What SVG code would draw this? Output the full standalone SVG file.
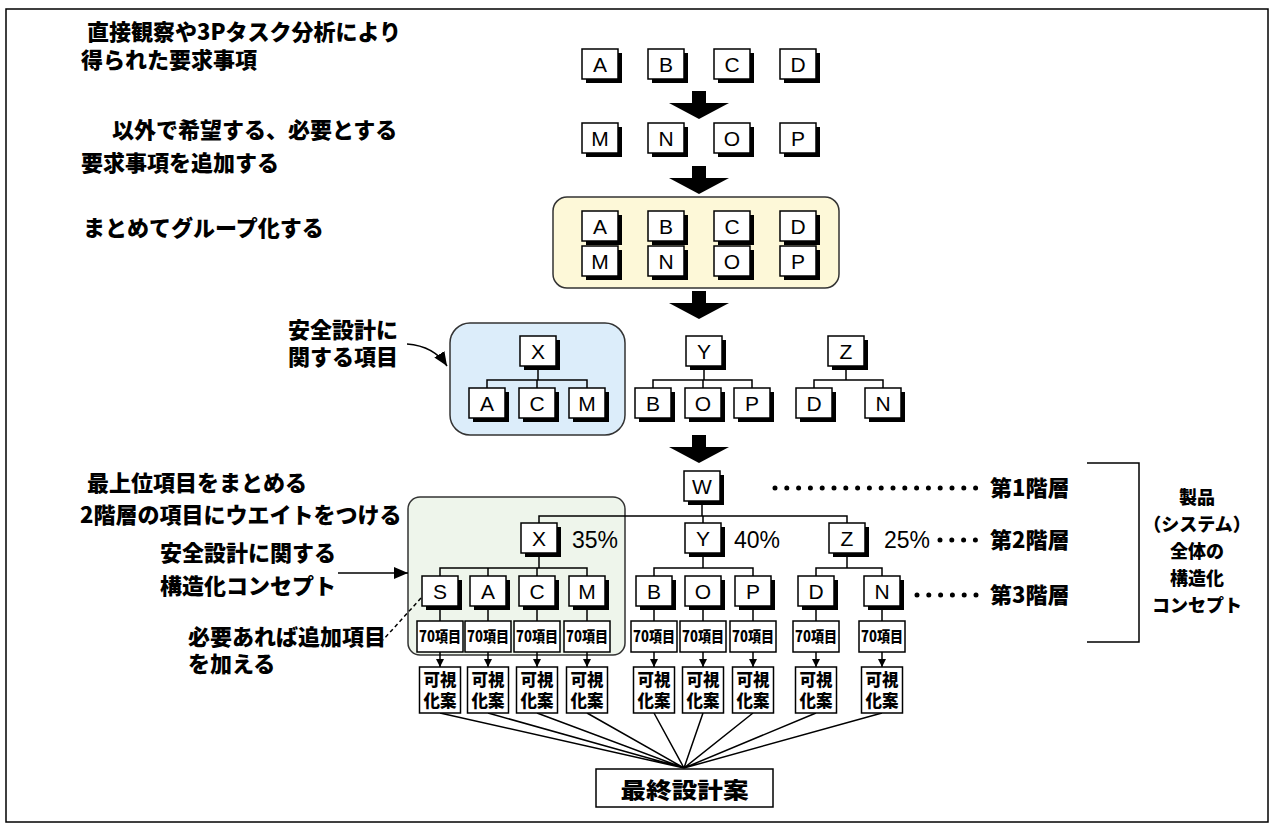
<svg xmlns="http://www.w3.org/2000/svg" width="1270" height="823" viewBox="0 0 1270 823">
<style>
.bx{fill:#fff;stroke:#000;stroke-width:1.5}
.sh{fill:#000}
.lt{font-family:"Liberation Sans",Arial,sans-serif;font-size:21px;fill:#000;text-anchor:middle}
.pc{font-family:"Liberation Sans",Arial,sans-serif;font-size:23px;fill:#000}
.jp{font-family:"Noto Sans CJK JP",sans-serif;font-weight:900;font-size:22px;fill:#000}
.jr{font-family:"Noto Sans CJK JP",sans-serif;font-weight:900;font-size:18px;fill:#000;text-anchor:middle}
.sm{font-family:"Noto Sans CJK JP",sans-serif;font-weight:900;font-size:15px;fill:#000;text-anchor:middle}
.vz{font-family:"Noto Sans CJK JP",sans-serif;font-weight:900;font-size:16.5px;fill:#000;text-anchor:middle}
.ln{stroke:#000;stroke-width:1.5;fill:none}
.dot{stroke:#000;stroke-width:5;stroke-linecap:round;stroke-dasharray:0 11.8;fill:none}
.big{fill:#000}
</style>
<defs>
<marker id="ah" markerUnits="userSpaceOnUse" markerWidth="10" markerHeight="10" refX="8" refY="5" orient="auto">
<path d="M0,1 L8,5 L0,9 Z" fill="#000"/>
</marker>
<marker id="ah2" markerUnits="userSpaceOnUse" markerWidth="16" markerHeight="14" refX="14" refY="7" orient="auto">
<path d="M0,1 L14,7 L0,13 Z" fill="#000"/>
</marker>
</defs>
<rect x="6" y="9" width="1262" height="813" fill="#fff" stroke="#000" stroke-width="1.5"/>

<!-- left labels -->
<g id="labels">
<text class="jp" x="87" y="40">直接観察や3Pタスク分析により</text>
<text class="jp" x="81" y="68">得られた要求事項</text>
<text class="jp" x="112" y="138">以外で希望する、必要とする</text>
<text class="jp" x="81" y="171">要求事項を追加する</text>
<text class="jp" x="83" y="236">まとめてグループ化する</text>
<text class="jp" x="288" y="338">安全設計に</text>
<text class="jp" x="288" y="365">関する項目</text>
<text class="jp" x="87" y="491">最上位項目をまとめる</text>
<text class="jp" x="80" y="523">2階層の項目にウエイトをつける</text>
<text class="jp" x="160" y="561">安全設計に関する</text>
<text class="jp" x="160" y="594">構造化コンセプト</text>
<text class="jp" x="188" y="645">必要あれば追加項目</text>
<text class="jp" x="188" y="672">を加える</text>
</g>

<!-- group backgrounds -->
<rect id="yellow-group" x="553" y="197" width="286" height="91" rx="14" fill="#fdf8d8" stroke="#333" stroke-width="1.5"/>
<rect id="blue-group" x="450" y="323" width="175" height="112" rx="20" fill="#dcedfa" stroke="#333" stroke-width="1.5"/>
<rect id="green-group" x="408" y="497" width="217" height="158" rx="12" fill="#eef5eb" stroke="#333" stroke-width="1.5"/>

<!-- connectors -->
<g id="connectors">
<polygon class="big" points="692,91 706,91 706,103 729,103 699,119 669,103 692,103"/>
<polygon class="big" points="692,166 706,166 706,178 729,178 699,194 669,178 692,178"/>
<polygon class="big" points="692,291 706,291 706,303 729,303 699,319 669,303 692,303"/>
<polygon class="big" points="692,435 706,435 706,447 729,447 699,463 669,447 692,447"/>
<path class="ln" d="M538,366V380M487,388V380H587V388M537,380V388"/>
<path class="ln" d="M704,366V380M653,388V380H752V388M703,380V388"/>
<path class="ln" d="M846,366V380M814,388V380H883V388"/>
<path class="ln" d="M702,501V516M539,523V516H847V523M703,516V523"/>
<path class="ln" d="M539,553V568M440,576V568H587V576M488,568V576M537,568V576"/>
<path class="ln" d="M703,553V568M654,576V568H753V576"/>
<path class="ln" d="M847,553V568M816,576V568H882V576"/>
<path class="ln" d="M440,606V621M488,606V621M537,606V621M587,606V621M654,606V621M703,606V621M753,606V621M816,606V621M882,606V621"/>
<g class="ln" marker-end="url(#ah)">
<line x1="440" y1="652" x2="440" y2="667"/>
<line x1="488" y1="652" x2="488" y2="667"/>
<line x1="537" y1="652" x2="537" y2="667"/>
<line x1="587" y1="652" x2="587" y2="667"/>
<line x1="654" y1="652" x2="654" y2="667"/>
<line x1="703" y1="652" x2="703" y2="667"/>
<line x1="753" y1="652" x2="753" y2="667"/>
<line x1="816" y1="652" x2="816" y2="667"/>
<line x1="882" y1="652" x2="882" y2="667"/>
</g>
<path class="ln" stroke-width="1.3" d="M440,713L684,768M488,713L684,768M537,713L684,768M587,713L684,768M654,713L684,768M703,713L684,768M753,713L684,768M816,713L684,768M882,713L684,768"/>
<path class="ln" d="M407,344Q434,346 447,366" marker-end="url(#ah2)"/>
<line class="ln" stroke-width="2" x1="338" y1="573" x2="408" y2="573" marker-end="url(#ah2)"/>
<line class="ln" stroke-width="1.2" stroke-dasharray="4 3" x1="421" y1="598" x2="383" y2="640"/>
<line class="dot" x1="775" y1="488" x2="987" y2="488"/>
<line class="dot" x1="940" y1="540" x2="987" y2="540"/>
<line class="dot" x1="917" y1="595" x2="987" y2="595"/>
<path class="ln" d="M1087,463H1139V642H1087"/>
</g>

<!-- row 1 -->
<g id="r1-A"><rect class="sh" x="586" y="53" width="36" height="30"/><rect class="bx" x="582" y="49" width="36" height="30"/><text class="lt" x="600" y="72">A</text></g>
<g id="r1-B"><rect class="sh" x="652" y="53" width="36" height="30"/><rect class="bx" x="648" y="49" width="36" height="30"/><text class="lt" x="666" y="72">B</text></g>
<g id="r1-C"><rect class="sh" x="718" y="53" width="36" height="30"/><rect class="bx" x="714" y="49" width="36" height="30"/><text class="lt" x="732" y="72">C</text></g>
<g id="r1-D"><rect class="sh" x="784" y="53" width="36" height="30"/><rect class="bx" x="780" y="49" width="36" height="30"/><text class="lt" x="798" y="72">D</text></g>
<!-- row 2 -->
<g id="r2-M"><rect class="sh" x="586" y="127" width="36" height="30"/><rect class="bx" x="582" y="123" width="36" height="30"/><text class="lt" x="600" y="146">M</text></g>
<g id="r2-N"><rect class="sh" x="652" y="127" width="36" height="30"/><rect class="bx" x="648" y="123" width="36" height="30"/><text class="lt" x="666" y="146">N</text></g>
<g id="r2-O"><rect class="sh" x="718" y="127" width="36" height="30"/><rect class="bx" x="714" y="123" width="36" height="30"/><text class="lt" x="732" y="146">O</text></g>
<g id="r2-P"><rect class="sh" x="784" y="127" width="36" height="30"/><rect class="bx" x="780" y="123" width="36" height="30"/><text class="lt" x="798" y="146">P</text></g>
<!-- grouped -->
<g id="g-A"><rect class="sh" x="586" y="215" width="36" height="30"/><rect class="bx" x="582" y="211" width="36" height="30"/><text class="lt" x="600" y="234">A</text></g>
<g id="g-B"><rect class="sh" x="652" y="215" width="36" height="30"/><rect class="bx" x="648" y="211" width="36" height="30"/><text class="lt" x="666" y="234">B</text></g>
<g id="g-C"><rect class="sh" x="718" y="215" width="36" height="30"/><rect class="bx" x="714" y="211" width="36" height="30"/><text class="lt" x="732" y="234">C</text></g>
<g id="g-D"><rect class="sh" x="784" y="215" width="36" height="30"/><rect class="bx" x="780" y="211" width="36" height="30"/><text class="lt" x="798" y="234">D</text></g>
<g id="g-M"><rect class="sh" x="586" y="250" width="36" height="30"/><rect class="bx" x="582" y="246" width="36" height="30"/><text class="lt" x="600" y="269">M</text></g>
<g id="g-N"><rect class="sh" x="652" y="250" width="36" height="30"/><rect class="bx" x="648" y="246" width="36" height="30"/><text class="lt" x="666" y="269">N</text></g>
<g id="g-O"><rect class="sh" x="718" y="250" width="36" height="30"/><rect class="bx" x="714" y="246" width="36" height="30"/><text class="lt" x="732" y="269">O</text></g>
<g id="g-P"><rect class="sh" x="784" y="250" width="36" height="30"/><rect class="bx" x="780" y="246" width="36" height="30"/><text class="lt" x="798" y="269">P</text></g>
<!-- trees -->
<g id="t-X"><rect class="sh" x="524" y="340" width="36" height="30"/><rect class="bx" x="520" y="336" width="36" height="30"/><text class="lt" x="538" y="359">X</text></g>
<g id="t-XA"><rect class="sh" x="473" y="392" width="36" height="30"/><rect class="bx" x="469" y="388" width="36" height="30"/><text class="lt" x="487" y="411">A</text></g>
<g id="t-XC"><rect class="sh" x="523" y="392" width="36" height="30"/><rect class="bx" x="519" y="388" width="36" height="30"/><text class="lt" x="537" y="411">C</text></g>
<g id="t-XM"><rect class="sh" x="573" y="392" width="36" height="30"/><rect class="bx" x="569" y="388" width="36" height="30"/><text class="lt" x="587" y="411">M</text></g>
<g id="t-Y"><rect class="sh" x="690" y="340" width="36" height="30"/><rect class="bx" x="686" y="336" width="36" height="30"/><text class="lt" x="704" y="359">Y</text></g>
<g id="t-YB"><rect class="sh" x="639" y="392" width="36" height="30"/><rect class="bx" x="635" y="388" width="36" height="30"/><text class="lt" x="653" y="411">B</text></g>
<g id="t-YO"><rect class="sh" x="689" y="392" width="36" height="30"/><rect class="bx" x="685" y="388" width="36" height="30"/><text class="lt" x="703" y="411">O</text></g>
<g id="t-YP"><rect class="sh" x="738" y="392" width="36" height="30"/><rect class="bx" x="734" y="388" width="36" height="30"/><text class="lt" x="752" y="411">P</text></g>
<g id="t-Z"><rect class="sh" x="832" y="340" width="36" height="30"/><rect class="bx" x="828" y="336" width="36" height="30"/><text class="lt" x="846" y="359">Z</text></g>
<g id="t-ZD"><rect class="sh" x="800" y="392" width="36" height="30"/><rect class="bx" x="796" y="388" width="36" height="30"/><text class="lt" x="814" y="411">D</text></g>
<g id="t-ZN"><rect class="sh" x="869" y="392" width="36" height="30"/><rect class="bx" x="865" y="388" width="36" height="30"/><text class="lt" x="883" y="411">N</text></g>
<!-- hierarchy -->
<g id="h-W"><rect class="sh" x="688" y="475" width="36" height="30"/><rect class="bx" x="684" y="471" width="36" height="30"/><text class="lt" x="702" y="494">W</text></g>
<g id="h-X"><rect class="sh" x="525" y="527" width="36" height="30"/><rect class="bx" x="521" y="523" width="36" height="30"/><text class="lt" x="539" y="546">X</text><text class="pc" x="572" y="548">35%</text></g>
<g id="h-Y"><rect class="sh" x="689" y="527" width="36" height="30"/><rect class="bx" x="685" y="523" width="36" height="30"/><text class="lt" x="703" y="546">Y</text><text class="pc" x="734" y="548">40%</text></g>
<g id="h-Z"><rect class="sh" x="833" y="527" width="36" height="30"/><rect class="bx" x="829" y="523" width="36" height="30"/><text class="lt" x="847" y="546">Z</text><text class="pc" x="884" y="548">25%</text></g>
<g id="h-S"><rect class="sh" x="426" y="580" width="36" height="30"/><rect class="bx" x="422" y="576" width="36" height="30"/><text class="lt" x="440" y="599">S</text></g>
<g id="h-A"><rect class="sh" x="474" y="580" width="36" height="30"/><rect class="bx" x="470" y="576" width="36" height="30"/><text class="lt" x="488" y="599">A</text></g>
<g id="h-C"><rect class="sh" x="523" y="580" width="36" height="30"/><rect class="bx" x="519" y="576" width="36" height="30"/><text class="lt" x="537" y="599">C</text></g>
<g id="h-M"><rect class="sh" x="573" y="580" width="36" height="30"/><rect class="bx" x="569" y="576" width="36" height="30"/><text class="lt" x="587" y="599">M</text></g>
<g id="h-B"><rect class="sh" x="640" y="580" width="36" height="30"/><rect class="bx" x="636" y="576" width="36" height="30"/><text class="lt" x="654" y="599">B</text></g>
<g id="h-O"><rect class="sh" x="689" y="580" width="36" height="30"/><rect class="bx" x="685" y="576" width="36" height="30"/><text class="lt" x="703" y="599">O</text></g>
<g id="h-P"><rect class="sh" x="739" y="580" width="36" height="30"/><rect class="bx" x="735" y="576" width="36" height="30"/><text class="lt" x="753" y="599">P</text></g>
<g id="h-D"><rect class="sh" x="802" y="580" width="36" height="30"/><rect class="bx" x="798" y="576" width="36" height="30"/><text class="lt" x="816" y="599">D</text></g>
<g id="h-N"><rect class="sh" x="868" y="580" width="36" height="30"/><rect class="bx" x="864" y="576" width="36" height="30"/><text class="lt" x="882" y="599">N</text></g>
<!-- 70 items -->
<g id="i-S"><rect class="bx" x="417" y="621" width="46" height="31"/><text class="sm" x="440" y="642" textLength="42" lengthAdjust="spacingAndGlyphs">70項目</text></g>
<g id="i-A"><rect class="bx" x="465" y="621" width="46" height="31"/><text class="sm" x="488" y="642" textLength="42" lengthAdjust="spacingAndGlyphs">70項目</text></g>
<g id="i-C"><rect class="bx" x="514" y="621" width="46" height="31"/><text class="sm" x="537" y="642" textLength="42" lengthAdjust="spacingAndGlyphs">70項目</text></g>
<g id="i-M"><rect class="bx" x="564" y="621" width="46" height="31"/><text class="sm" x="587" y="642" textLength="42" lengthAdjust="spacingAndGlyphs">70項目</text></g>
<g id="i-B"><rect class="bx" x="631" y="621" width="46" height="31"/><text class="sm" x="654" y="642" textLength="42" lengthAdjust="spacingAndGlyphs">70項目</text></g>
<g id="i-O"><rect class="bx" x="680" y="621" width="46" height="31"/><text class="sm" x="703" y="642" textLength="42" lengthAdjust="spacingAndGlyphs">70項目</text></g>
<g id="i-P"><rect class="bx" x="730" y="621" width="46" height="31"/><text class="sm" x="753" y="642" textLength="42" lengthAdjust="spacingAndGlyphs">70項目</text></g>
<g id="i-D"><rect class="bx" x="793" y="621" width="46" height="31"/><text class="sm" x="816" y="642" textLength="42" lengthAdjust="spacingAndGlyphs">70項目</text></g>
<g id="i-N"><rect class="bx" x="859" y="621" width="46" height="31"/><text class="sm" x="882" y="642" textLength="42" lengthAdjust="spacingAndGlyphs">70項目</text></g>
<!-- visualisation -->
<g id="v-S"><rect class="bx" x="419.5" y="667" width="41" height="46"/><text class="vz"><tspan x="440" y="686">可視</tspan><tspan x="440" y="707">化案</tspan></text></g>
<g id="v-A"><rect class="bx" x="467.5" y="667" width="41" height="46"/><text class="vz"><tspan x="488" y="686">可視</tspan><tspan x="488" y="707">化案</tspan></text></g>
<g id="v-C"><rect class="bx" x="516.5" y="667" width="41" height="46"/><text class="vz"><tspan x="537" y="686">可視</tspan><tspan x="537" y="707">化案</tspan></text></g>
<g id="v-M"><rect class="bx" x="566.5" y="667" width="41" height="46"/><text class="vz"><tspan x="587" y="686">可視</tspan><tspan x="587" y="707">化案</tspan></text></g>
<g id="v-B"><rect class="bx" x="633.5" y="667" width="41" height="46"/><text class="vz"><tspan x="654" y="686">可視</tspan><tspan x="654" y="707">化案</tspan></text></g>
<g id="v-O"><rect class="bx" x="682.5" y="667" width="41" height="46"/><text class="vz"><tspan x="703" y="686">可視</tspan><tspan x="703" y="707">化案</tspan></text></g>
<g id="v-P"><rect class="bx" x="732.5" y="667" width="41" height="46"/><text class="vz"><tspan x="753" y="686">可視</tspan><tspan x="753" y="707">化案</tspan></text></g>
<g id="v-D"><rect class="bx" x="795.5" y="667" width="41" height="46"/><text class="vz"><tspan x="816" y="686">可視</tspan><tspan x="816" y="707">化案</tspan></text></g>
<g id="v-N"><rect class="bx" x="861.5" y="667" width="41" height="46"/><text class="vz"><tspan x="882" y="686">可視</tspan><tspan x="882" y="707">化案</tspan></text></g>
<g id="final"><rect class="bx" x="596" y="769" width="177" height="38"/><text class="jp" x="684.5" y="798" text-anchor="middle" font-size="27" textLength="128" lengthAdjust="spacingAndGlyphs">最終設計案</text></g>
<!-- right labels -->
<g id="levels">
<text class="jp" x="990" y="496" font-size="23">第1階層</text>
<text class="jp" x="990" y="548" font-size="23">第2階層</text>
<text class="jp" x="990" y="603" font-size="23">第3階層</text>
</g>
<g id="concept">
<text class="jr" x="1197" y="504">製品</text>
<text class="jr" x="1197" y="531">（システム）</text>
<text class="jr" x="1197" y="558">全体の</text>
<text class="jr" x="1197" y="585">構造化</text>
<text class="jr" x="1197" y="612">コンセプト</text>
</g>
</svg>
